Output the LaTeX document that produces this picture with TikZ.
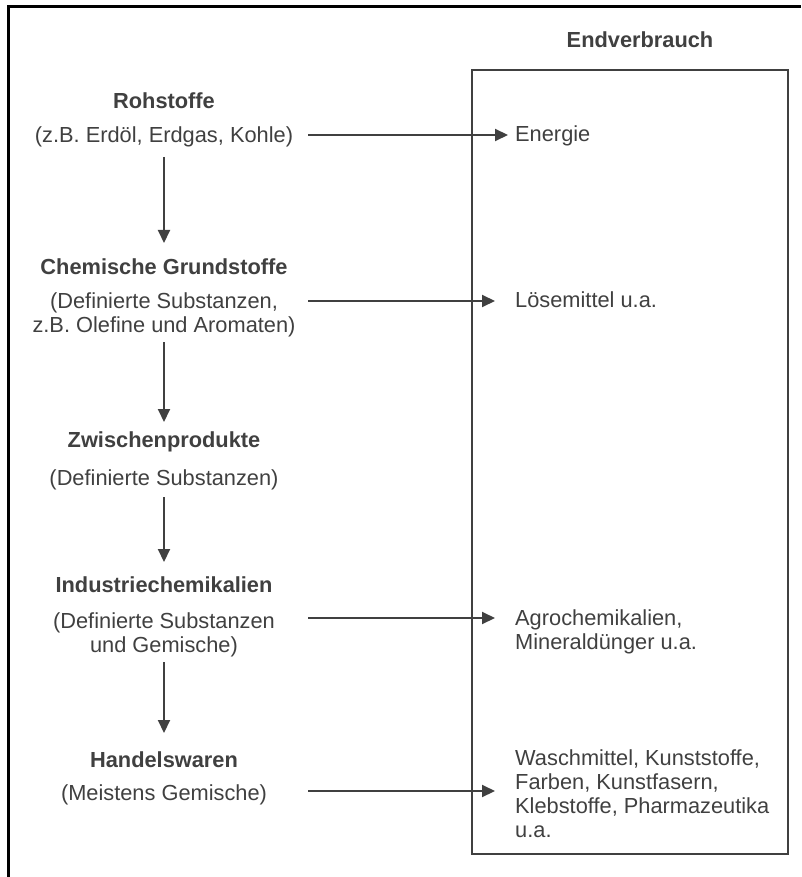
\documentclass[tikz,border=0pt]{standalone}
\usepackage{fontspec}
\setmainfont{Liberation Sans}
\usetikzlibrary{arrows.meta}
\definecolor{ink}{HTML}{404040}
\begin{document}
\begin{tikzpicture}[x=1pt,y=-1pt,
  txt/.style={anchor=base, inner sep=0pt, text=ink, font=\fontsize{21.8}{24}\selectfont},
  ttl/.style={anchor=base, inner sep=0pt, text=ink, font=\fontsize{21.8}{24}\selectfont\bfseries},
  rtxt/.style={txt, anchor=base west},
  flow/.style={draw=ink, line width=2pt, -{Triangle[length=13pt,width=12pt]}}]
\useasboundingbox (0,0) rectangle (801,877);
% outer frame (left and top only)
\draw[line width=3pt] (8.5,877) -- (8.5,6.5) -- (801,6.5);
% end-use box
\node[draw=ink, line width=2pt, minimum width=316pt, minimum height=784pt, anchor=north west, inner sep=0pt] (box) at (471,69) {};
\node[ttl] (endT) at (640,48) {Endverbrauch};

% left column
\node[ttl] (rohT) at (164,109) {Rohstoffe};
\node[txt] (rohS) at (164,143) {(z.B. Erdöl, Erdgas, Kohle)};
\node[ttl] (chemT) at (164,274) {Chemische Grundstoffe};
\node[txt] (chemS1) at (164,308) {(Definierte Substanzen,};
\node[txt] (chemS2) at (164,332) {z.B. Olefine und Aromaten)};
\node[ttl] (zwT) at (164,447) {Zwischenprodukte};
\node[txt] (zwS) at (164,485) {(Definierte Substanzen)};
\node[ttl] (indT) at (164,592) {Industriechemikalien};
\node[txt] (indS1) at (164,628) {(Definierte Substanzen};
\node[txt] (indS2) at (164,652) {und Gemische)};
\node[ttl] (hanT) at (164,767) {Handelswaren};
\node[txt] (hanS) at (164,800) {(Meistens Gemische)};

% right column
\node[rtxt] (energie) at (515,142) {Energie};
\node[rtxt] (loese) at (515,307) {Lösemittel u.a.};
\node[rtxt] (agro1) at (515,625) {Agrochemikalien,};
\node[rtxt] (agro2) at (515,649) {Mineraldünger u.a.};
\node[rtxt] (wasch1) at (515,765) {Waschmittel, Kunststoffe,};
\node[rtxt] (wasch2) at (515,789) {Farben, Kunstfasern,};
\node[rtxt] (wasch3) at (515,813) {Klebstoffe, Pharmazeutika};
\node[rtxt] (wasch4) at (515,837) {u.a.};

% connector end points
\coordinate (v1a) at (164,157); \coordinate (v1b) at (164,243);
\coordinate (v2a) at (164,342); \coordinate (v2b) at (164,422);
\coordinate (v3a) at (164,497); \coordinate (v3b) at (164,562);
\coordinate (v4a) at (164,662); \coordinate (v4b) at (164,733);
\coordinate (h1a) at (308,135); \coordinate (h1b) at (508,135);
\coordinate (h2a) at (308,301); \coordinate (h2b) at (495,301);
\coordinate (h3a) at (308,618); \coordinate (h3b) at (495,618);
\coordinate (h4a) at (308,791); \coordinate (h4b) at (495,791);

\draw[flow] (v1a) -- (v1b);
\draw[flow] (v2a) -- (v2b);
\draw[flow] (v3a) -- (v3b);
\draw[flow] (v4a) -- (v4b);
\draw[flow] (h1a) -- (h1b);
\draw[flow] (h2a) -- (h2b);
\draw[flow] (h3a) -- (h3b);
\draw[flow] (h4a) -- (h4b);
\end{tikzpicture}
\end{document}
